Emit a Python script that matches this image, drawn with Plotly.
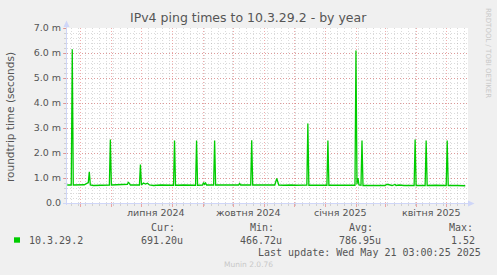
import plotly.graph_objects as go

# ---------------- data ----------------
dates = [
    "2024-04-18", "2024-04-22", "2024-04-23", "2024-04-24", "2024-05-05", "2024-05-07",
    "2024-05-08", "2024-05-09", "2024-05-10", "2024-05-11", "2024-05-14", "2024-05-18",
    "2024-05-22", "2024-05-30", "2024-05-31", "2024-06-01", "2024-06-10", "2024-06-17",
    "2024-06-18", "2024-06-19", "2024-06-20", "2024-06-29", "2024-06-30", "2024-07-01",
    "2024-07-03", "2024-07-05", "2024-07-07", "2024-07-09", "2024-07-13", "2024-07-20",
    "2024-08-02", "2024-08-03", "2024-08-04", "2024-08-12", "2024-08-24", "2024-08-25",
    "2024-08-26", "2024-08-31", "2024-09-01", "2024-09-02", "2024-09-03", "2024-09-04",
    "2024-09-11", "2024-09-12", "2024-09-13", "2024-09-25", "2024-10-06", "2024-10-07",
    "2024-10-08", "2024-10-18", "2024-10-19", "2024-10-20", "2024-10-28", "2024-11-11",
    "2024-11-13", "2024-11-14", "2024-11-15", "2024-11-20", "2024-11-25", "2024-11-28",
    "2024-12-01", "2024-12-13", "2024-12-14", "2024-12-15", "2024-12-25", "2025-01-02",
    "2025-01-03", "2025-01-04", "2025-01-20", "2025-01-30", "2025-01-31", "2025-02-01",
    "2025-02-02", "2025-02-03", "2025-02-05", "2025-02-06", "2025-02-07", "2025-02-20",
    "2025-03-01", "2025-03-03", "2025-03-05", "2025-03-08", "2025-03-11", "2025-03-12",
    "2025-03-15", "2025-03-20", "2025-03-30", "2025-03-31", "2025-04-01", "2025-04-10",
    "2025-04-11", "2025-04-12", "2025-04-20", "2025-05-01", "2025-05-02", "2025-05-03",
    "2025-05-12", "2025-05-20",
]
rtt_ms = [
    0.72, 0.72, 6.15, 0.72, 0.73, 0.78,
    0.80, 0.82, 1.25, 0.72, 0.70, 0.72,
    0.71, 0.72, 2.54, 0.72, 0.72, 0.75,
    0.84, 0.76, 0.72, 0.72, 1.54, 0.72,
    0.80, 0.76, 0.79, 0.72, 0.70, 0.72,
    0.71, 2.50, 0.71, 0.72, 0.71, 2.50,
    0.71, 0.72, 0.82, 0.75, 0.80, 0.72,
    0.72, 2.50, 0.72, 0.72, 0.72, 0.78,
    0.72, 0.72, 2.51, 0.72, 0.71, 0.72,
    0.98, 0.78, 0.72, 0.71, 0.73, 0.72,
    0.71, 0.72, 3.18, 0.71, 0.71, 0.71,
    2.50, 0.71, 0.71, 0.71, 6.10, 0.75,
    1.00, 0.72, 0.71, 2.50, 0.70, 0.69,
    0.70, 0.75, 0.72, 0.70, 0.74, 0.70,
    0.72, 0.70, 0.70, 2.54, 0.70, 0.70,
    2.50, 0.70, 0.71, 0.70, 2.50, 0.70,
    0.70, 0.69,
]

x_range = ["2024-04-17 18:00", "2025-05-22 18:00"]
y_ticks = [0, 1, 2, 3, 4, 5, 6, 7]
y_ticktext = ["0.0", "1.0 m", "2.0 m", "3.0 m", "4.0 m", "5.0 m", "6.0 m", "7.0 m"]
x_label_dates = ["2024-07-16", "2024-10-16", "2025-01-16", "2025-04-16"]
x_label_text = ["липня 2024", "жовтня 2024", "січня 2025", "квітня 2025"]

title = "IPv4 ping times to 10.3.29.2 - by year"
y_title = "roundtrip time (seconds)"
series_name = "10.3.29.2"
stat_heads = ["Cur:", "Min:", "Avg:", "Max:"]
stat_vals = ["691.20u", "466.72u", "786.95u", "1.52"]
last_update = "Last update: Wed May 21 03:00:25 2025"

# ---------------- geometry helpers (pixels -> paper) ----------------
W, H = 497, 275
L, R, T, B = 67, 29, 28, 72
PW, PH = W - L - R, H - T - B


def fx(px):
    return (px - L) / PW


def fy(py):
    return (H - B - py) / PH


GREEN = "#00cc00"
FONT = "#555555"
AXIS = "#CFD6F8"
MGRID = "rgba(225,90,90,0.5)"
GRID = "rgba(150,150,150,0.35)"
SANS = "DejaVu Sans"
MONO = "DejaVu Sans Mono"

fig = go.Figure()
fig.add_trace(go.Scatter(x=dates, y=rtt_ms, mode="lines",
                         line=dict(color=GREEN, width=1.3),
                         hoverinfo="skip", showlegend=False))

fig.update_layout(
    width=W, height=H, autosize=False,
    margin=dict(l=L, r=R, t=T, b=B, pad=0),
    paper_bgcolor="#F0F0F0", plot_bgcolor="#FFFFFF",
    showlegend=False,
)
fig.update_xaxes(
    type="date", range=x_range, showline=False, zeroline=False,
    tickmode="linear", tick0="2024-05-01", dtick="M1",
    showgrid=True, gridcolor=MGRID, griddash="1px,2px", gridwidth=1,
    showticklabels=False, ticks="outside", ticklen=3, tickcolor=MGRID,
    minor=dict(tick0="2024-04-22", dtick=7 * 86400000, showgrid=True,
               gridcolor=GRID, griddash="1px,2px", ticks="outside",
               ticklen=2, tickcolor=GRID),
)
fig.update_yaxes(
    range=[0, 7], tickvals=y_ticks, ticktext=y_ticktext,
    showline=False, zeroline=False,
    showgrid=True, gridcolor=MGRID, griddash="1px,2px", gridwidth=1,
    ticks="outside", ticklen=3, tickcolor=MGRID,
    tickfont=dict(family=SANS, size=9.5, color=FONT),
    minor=dict(dtick=0.2, showgrid=True, gridcolor=GRID, griddash="1px,2px",
               ticks="outside", ticklen=2, tickcolor=GRID),
)

shapes = []
# axes with arrows
shapes.append(dict(type="line", xref="paper", yref="paper",
                   x0=fx(66.5), x1=fx(66.5), y0=fy(205), y1=fy(24),
                   line=dict(color=AXIS, width=1)))
shapes.append(dict(type="path", xref="paper", yref="paper",
                   path=f"M {fx(63.5)} {fy(27)} L {fx(69.5)} {fy(27)} L {fx(66.5)} {fy(20.5)} Z",
                   fillcolor=AXIS, line=dict(color=AXIS, width=0)))
shapes.append(dict(type="line", xref="paper", yref="paper",
                   x0=fx(63), x1=fx(471), y0=fy(203.5), y1=fy(203.5),
                   line=dict(color=AXIS, width=1)))
shapes.append(dict(type="path", xref="paper", yref="paper",
                   path=f"M {fx(468)} {fy(200.5)} L {fx(468)} {fy(206.5)} L {fx(474.5)} {fy(203.5)} Z",
                   fillcolor=AXIS, line=dict(color=AXIS, width=0)))
# legend colour box
shapes.append(dict(type="rect", xref="paper", yref="paper",
                   x0=fx(14), x1=fx(20), y0=fy(242.7), y1=fy(237.3),
                   fillcolor=GREEN, line=dict(color=GREEN, width=0)))
fig.update_layout(shapes=shapes)

ann = []
ann.append(dict(text=title, x=fx(248.5), y=fy(18), xref="paper", yref="paper",
                xanchor="center", yanchor="middle", showarrow=False,
                font=dict(family=SANS, size=12.5, color=FONT)))
ann.append(dict(text=y_title, x=fx(10), y=fy(117), xref="paper", yref="paper",
                xanchor="center", yanchor="middle", showarrow=False, textangle=-90,
                font=dict(family=SANS, size=10.5, color=FONT)))
ann.append(dict(text="RRDTOOL / TOBI OETIKER", x=fx(488), y=fy(53), xref="paper", yref="paper",
                xanchor="center", yanchor="middle", showarrow=False, textangle=90,
                font=dict(family=SANS, size=7, color="#C8C8C8")))
for d, t in zip(x_label_dates, x_label_text):
    ann.append(dict(text=t, x=d, y=fy(212.5), xref="x", yref="paper",
                    xanchor="center", yanchor="middle", showarrow=False,
                    font=dict(family=SANS, size=9.5, color=FONT)))
ann.append(dict(text=series_name, x=fx(26.5), y=fy(240), xref="paper", yref="paper",
                xanchor="left", yanchor="middle", showarrow=False,
                font=dict(family=MONO, size=10, color=FONT)))
head_x = [149, 248.3, 347.3, 446.7]
val_right = [185, 284.3, 383.3, 476.7]
for hx, h in zip(head_x, stat_heads):
    ann.append(dict(text=h, x=fx(hx), y=fy(227.5), xref="paper", yref="paper",
                    xanchor="left", yanchor="middle", showarrow=False,
                    font=dict(family=MONO, size=10, color=FONT)))
for vx, v in zip(val_right, stat_vals):
    ann.append(dict(text=v, x=fx(vx), y=fy(240), xref="paper", yref="paper",
                    xanchor="right", yanchor="middle", showarrow=False,
                    font=dict(family=MONO, size=10, color=FONT)))
ann.append(dict(text=last_update, x=fx(482.7), y=fy(252), xref="paper", yref="paper",
                xanchor="right", yanchor="middle", showarrow=False,
                font=dict(family=MONO, size=10, color=FONT)))
ann.append(dict(text="Munin 2.0.76", x=fx(248), y=fy(264), xref="paper", yref="paper",
                xanchor="center", yanchor="middle", showarrow=False,
                font=dict(family=SANS, size=7.5, color="#C8C8C8")))
fig.update_layout(annotations=ann)

fig.write_html("out.html")
